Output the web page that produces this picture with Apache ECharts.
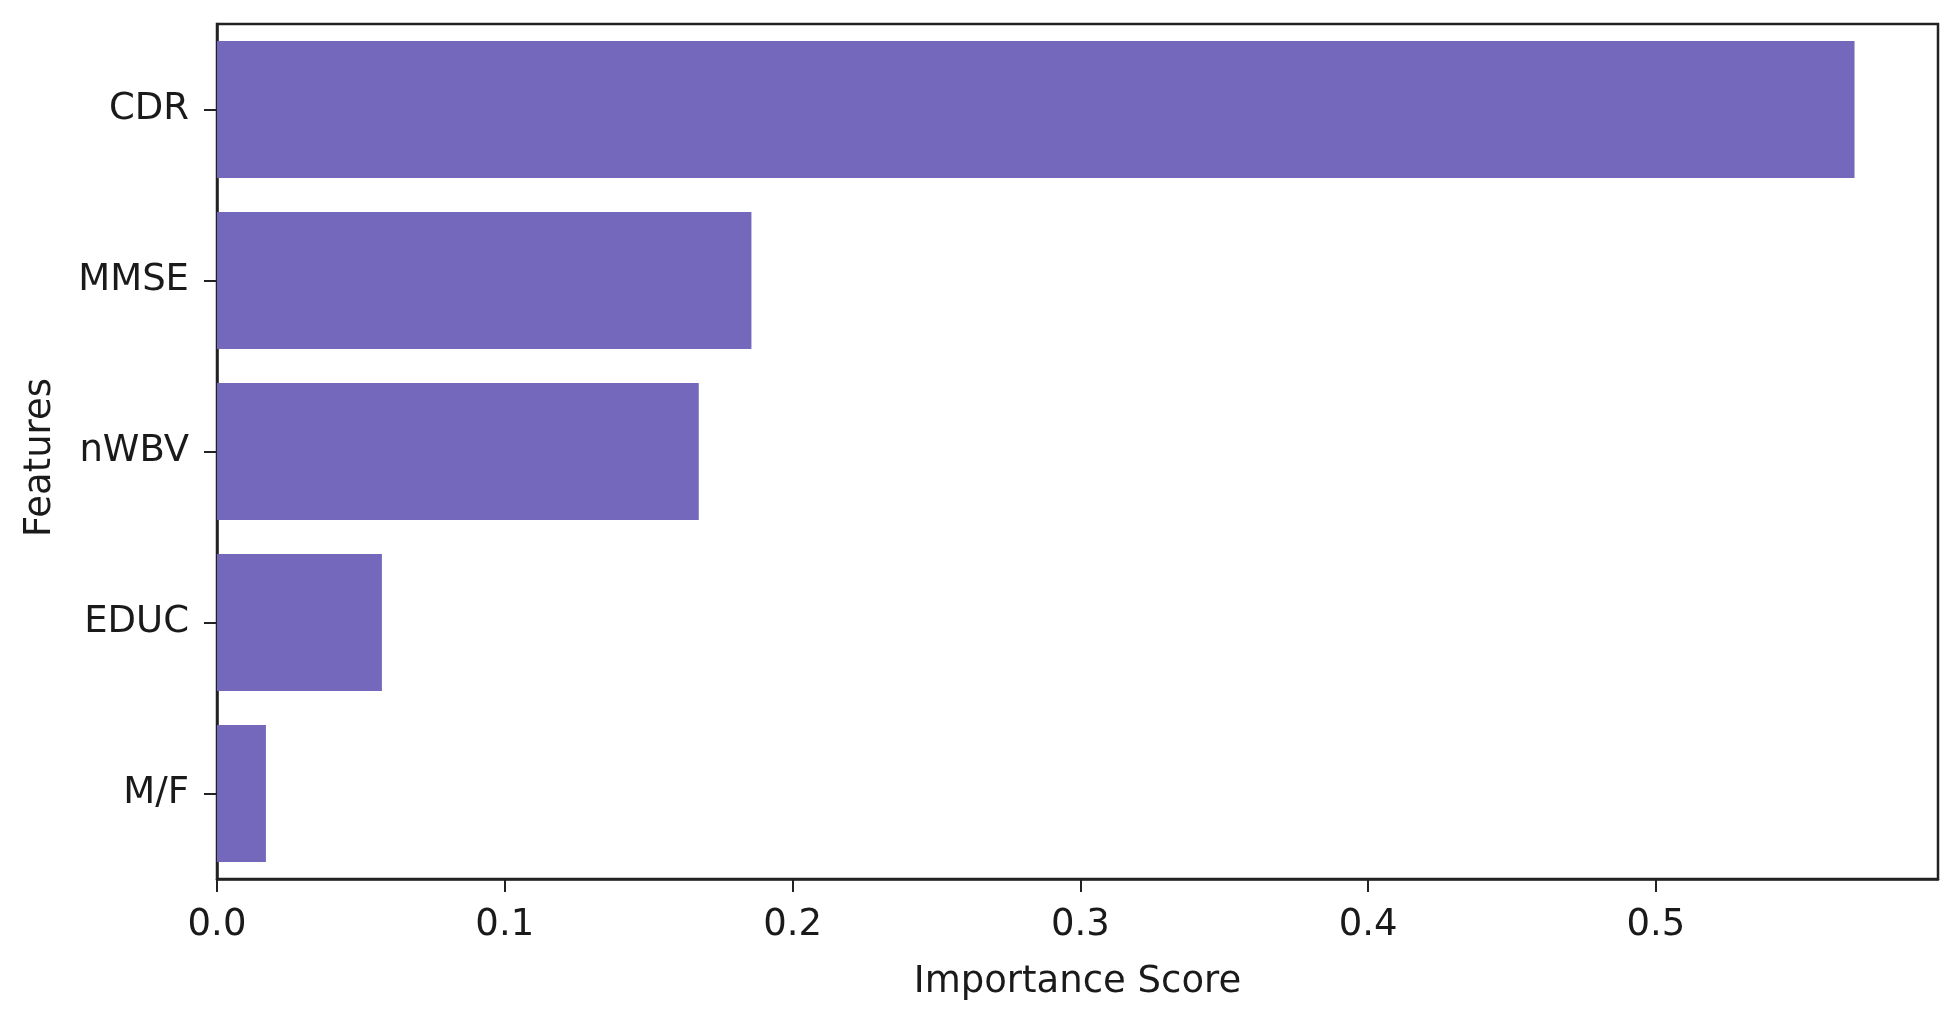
<!DOCTYPE html>
<html>
<head>
<meta charset="utf-8">
<script src="https://cdn.jsdelivr.net/npm/echarts@6/dist/echarts.min.js"></script>
<style>
  html, body { margin: 0; padding: 0; background: #ffffff; }
  #chart { width: 1960px; height: 1017px; }
</style>
</head>
<body>
<div id="chart"></div>
<script>
// Data
const features = ['CDR', 'MMSE', 'nWBV', 'EDUC', 'M/F'];
const importance = [0.569, 0.1857, 0.1674, 0.0573, 0.0170];
const xTicks = [0, 0.1, 0.2, 0.3, 0.4, 0.5];
const xAxisMax = 0.598;

const FONT = 'DejaVu Sans';
const INK = '#222222';

const chart = echarts.init(document.getElementById('chart'), null, { renderer: 'canvas' });
chart.setOption({
  backgroundColor: '#ffffff',
  animation: false,
  grid: {
    left: 217, top: 24, right: 22, bottom: 138,
    show: true, borderColor: INK, borderWidth: 2.5,
    backgroundColor: 'transparent'
  },
  xAxis: {
    type: 'value',
    min: 0, max: xAxisMax, interval: 0.1,
    name: 'Importance Score',
    nameLocation: 'middle',
    nameGap: 85,
    nameTextStyle: { fontFamily: FONT, fontSize: 37, color: '#1a1a1a' },
    axisLine: { show: true, lineStyle: { color: INK, width: 2.5 } },
    axisTick: { show: true, length: 13, lineStyle: { color: INK, width: 2 }, customValues: xTicks },
    axisLabel: {
      fontFamily: FONT, fontSize: 37, color: '#1a1a1a', margin: 28,
      customValues: xTicks,
      formatter: v => Number(v).toFixed(1)
    },
    splitLine: { show: false }
  },
  yAxis: {
    type: 'category',
    data: features,
    inverse: true,
    name: 'Features',
    nameLocation: 'middle',
    nameGap: 158,
    nameRotate: 90,
    nameTextStyle: { fontFamily: FONT, fontSize: 37, color: '#1a1a1a', padding: [0, 12, 0, 0] },
    axisLine: { show: true, lineStyle: { color: INK, width: 2.5 } },
    axisTick: { show: true, alignWithLabel: true, length: 13, lineStyle: { color: INK, width: 2 } },
    axisLabel: { fontFamily: FONT, fontSize: 37, color: '#1a1a1a', margin: 28 },
    splitLine: { show: false }
  },
  series: [{
    type: 'bar',
    data: importance,
    barCategoryGap: '20%',
    itemStyle: { color: '#7468bc' }
  }]
});
</script>
</body>
</html>
